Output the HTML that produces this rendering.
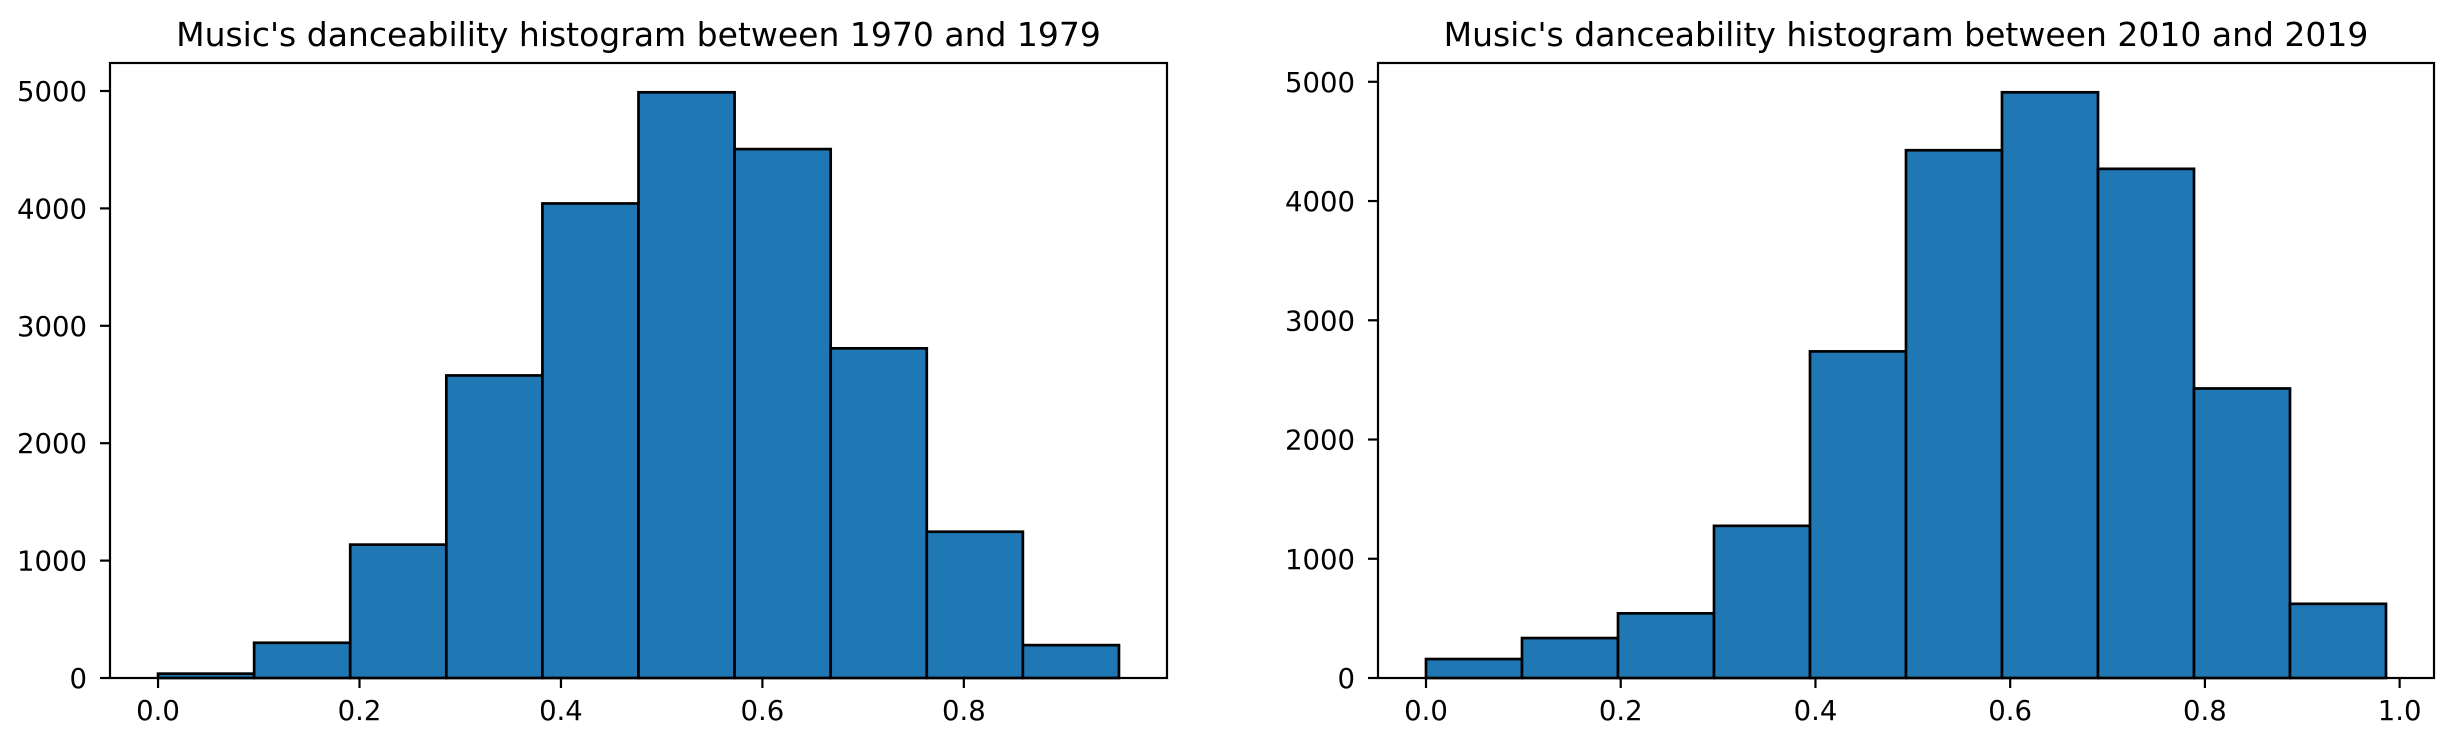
<!DOCTYPE html>
<html><head><meta charset="utf-8"><style>
html,body{margin:0;padding:0;background:#fff;}
svg{display:block;font-family:"DejaVu Sans","Liberation Sans",sans-serif;}
</style></head><body>
<svg id="chart" width="2454" height="746" viewBox="0 0 2454 746" xmlns="http://www.w3.org/2000/svg"></svg>
<script>
const leftTitle = "Music's danceability histogram between 1970 and 1979";
const rightTitle = "Music's danceability histogram between 2010 and 2019";
const leftCounts = [37, 300, 1136, 2577, 4042, 4989, 4505, 2808, 1246, 280];
const rightCounts = [159, 335, 542, 1276, 2739, 4426, 4912, 4270, 2428, 622];
const leftRange = [0, 0.954];
const rightRange = [0, 0.986];
const leftXTicks = [0.0, 0.2, 0.4, 0.6, 0.8];
const rightXTicks = [0.0, 0.2, 0.4, 0.6, 0.8, 1.0];
const yTicks = [0, 1000, 2000, 3000, 4000, 5000];

const NS = "http://www.w3.org/2000/svg";
const svg = document.getElementById('chart');
function mk(tag, attrs, parent){
  const e = document.createElementNS(NS, tag);
  for (const k in attrs) e.setAttribute(k, attrs[k]);
  parent.appendChild(e);
  return e;
}
function drawPanel(name, box, title, counts, range, xticks){
  const g = mk('g', {}, svg);
  
  
  const r = range[1] - range[0];
  const xmin = range[0] - 0.05 * r, xmax = range[1] + 0.05 * r;
  const maxC = Math.max(...counts);
  const ymax = maxC * 1.05;
  const X = v => box.l + (v - xmin) / (xmax - xmin) * (box.r - box.l);
  const Y = v => box.b - v / ymax * (box.b - box.t);
  const n = counts.length;
  const w = r / n;
  counts.forEach((c, i) => {
    const x0 = X(range[0] + i * w), x1 = X(range[0] + (i + 1) * w);
    const rect = mk('rect', {x: x0, y: Y(c), width: x1 - x0, height: Y(0) - Y(c),
      fill: '#1f77b4', stroke: '#000', 'stroke-width': 2.7}, g);
    
    
  });
  const frame = mk('rect', {x: box.l, y: box.t, width: box.r - box.l, height: box.b - box.t,
    fill: 'none', stroke: '#000', 'stroke-width': 2.2}, g);
  
  
  xticks.forEach(t => {
    const x = X(t);
    mk('line', {x1: x, x2: x, y1: box.b, y2: box.b + 10, stroke: '#000', 'stroke-width': 2.2}, g);
    const tx = mk('text', {x: x, y: 720, 'font-size': 27.5, 'text-anchor': 'middle', fill: '#000'}, g);
    tx.textContent = t.toFixed(1);
    
    
  });
  yTicks.forEach(t => {
    if (t > ymax) return;
    const y = Y(t);
    mk('line', {x1: box.l - 10, x2: box.l, y1: y, y2: y, stroke: '#000', 'stroke-width': 2.2}, g);
    const ty = mk('text', {x: box.l - 23, y: y + 10, 'font-size': 27.5, 'text-anchor': 'end', fill: '#000'}, g);
    ty.textContent = String(t);
    
    
  });
  const tt = mk('text', {x: (box.l + box.r) / 2, y: 46, 'font-size': 33, 'text-anchor': 'middle', fill: '#000'}, g);
  tt.textContent = title;
  
  
}
drawPanel('left-histogram-1970s', {l: 110, r: 1167, t: 63, b: 678}, leftTitle, leftCounts, leftRange, leftXTicks);
drawPanel('right-histogram-2010s', {l: 1378, r: 2434, t: 63, b: 678}, rightTitle, rightCounts, rightRange, rightXTicks);
</script>
</body></html>
